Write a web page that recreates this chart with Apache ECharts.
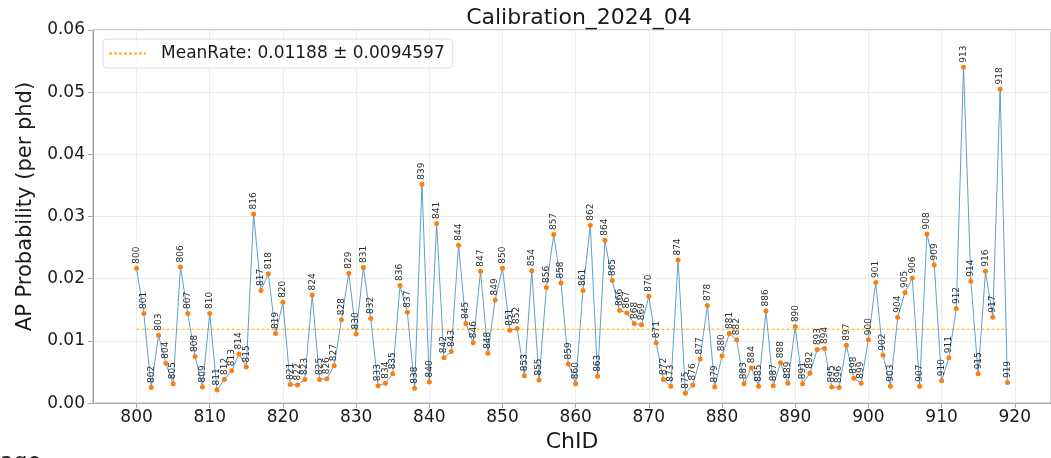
<!DOCTYPE html>
<html>
<head>
<meta charset="utf-8">
<title>Calibration_2024_04</title>
<script src="https://cdn.jsdelivr.net/npm/echarts@6/dist/echarts.min.js"></script>
<style>
  html, body { margin: 0; padding: 0; background: #fff; }
  #chart { width: 1051px; height: 458px; }
</style>
</head>
<body>
<div id="chart"></div>
<script>
// channel ids start at 800, one value per channel
const firstChId = 800;
const apRate = [
  0.0217, 0.0144, 0.0025, 0.0109, 0.0064, 0.0031, 0.0219, 0.0144, 0.0075, 0.0026,
  0.0144, 0.0021, 0.0038, 0.0052, 0.0079, 0.0058, 0.0304, 0.0181, 0.0208, 0.0112,
  0.0162, 0.0030, 0.0029, 0.0038, 0.0174, 0.0038, 0.0039, 0.0060, 0.0134, 0.0209,
  0.0111, 0.0218, 0.0136, 0.0028, 0.0032, 0.0047, 0.0189, 0.0146, 0.0024, 0.0352,
  0.0034, 0.0289, 0.0073, 0.0083, 0.0254, 0.0128, 0.0097, 0.0212, 0.0080, 0.0166,
  0.0217, 0.0117, 0.0120, 0.0044, 0.0213, 0.0037, 0.0186, 0.0271, 0.0193, 0.0063,
  0.0031, 0.0181, 0.0286, 0.0043, 0.0262, 0.0197, 0.0149, 0.0145, 0.0128, 0.0126,
  0.0172, 0.0097, 0.0038, 0.0027, 0.0230, 0.0016, 0.0029, 0.0071, 0.0157, 0.0026,
  0.0076, 0.0112, 0.0102, 0.0031, 0.0057, 0.0027, 0.0148, 0.0028, 0.0065, 0.0032,
  0.0123, 0.0031, 0.0048, 0.0086, 0.0088, 0.0026, 0.0025, 0.0093, 0.0040, 0.0032,
  0.0102, 0.0194, 0.0077, 0.0027, 0.0138, 0.0178, 0.0201, 0.0027, 0.0272, 0.0222,
  0.0036, 0.0073, 0.0152, 0.0540, 0.0196, 0.0047, 0.0212, 0.0138, 0.0505, 0.0033
];
const chIds = apRate.map((v, i) => firstChId + i);
const meanRate = 0.01188;
const meanLabel = "MeanRate: 0.01188 \u00b1 0.0094597";
const xTicks = [800, 810, 820, 830, 840, 850, 860, 870, 880, 890, 900, 910, 920];

const font = "DejaVu Sans";
const chart = echarts.init(document.getElementById("chart"));

const option = {
  animation: false,
  textStyle: { fontFamily: font },
  title: {
    text: "Calibration_2024_04",
    left: 574,
    top: 2,
    textAlign: "center",
    textStyle: { fontFamily: font, fontSize: 22, fontWeight: "normal", color: "#1a1a1a" },
  },
  legend: {
    data: [meanLabel],
    left: 103,
    top: 39,
    orient: "vertical",
    padding: [6, 8, 6, 5],
    itemWidth: 37,
    itemHeight: 10,
    itemStyle: { opacity: 0 },
    borderColor: "#dcdcdc",
    borderWidth: 1,
    borderRadius: 4,
    backgroundColor: "rgba(255,255,255,0.8)",
    textStyle: { fontFamily: font, fontSize: 17, color: "#1a1a1a", padding: [0, 0, 0, 10] },
  },
  grid: {
    left: 93,
    top: 30,
    width: 963,
    height: 376,
    show: true,
    borderColor: "#a6a6a6",
    borderWidth: 1,
  },
  xAxis: {
    type: "value",
    min: 794.05,
    max: 924.95,
    name: "ChID",
    nameLocation: "middle",
    nameGap: 24,
    nameTextStyle: { fontFamily: font, fontSize: 22, color: "#1a1a1a" },
    axisLine: { lineStyle: { color: "#a6a6a6" } },
    axisTick: { customValues: xTicks, length: 5, lineStyle: { color: "#a6a6a6" } },
    axisLabel: {
      customValues: xTicks,
      fontFamily: font,
      fontSize: 17,
      color: "#1a1a1a",
      margin: 6,
    },
    splitLine: { show: true, lineStyle: { color: "#ececec", width: 1 } },
  },
  yAxis: {
    type: "value",
    min: 0,
    max: 0.06,
    interval: 0.01,
    name: "AP Probability (per phd)",
    nameLocation: "middle",
    nameGap: 50,
    nameTextStyle: { fontFamily: font, fontSize: 21, color: "#1a1a1a", padding: [0, 0, 0, 20] },
    axisLine: { show: true, lineStyle: { color: "#a6a6a6" } },
    axisTick: { show: true, length: 5, lineStyle: { color: "#a6a6a6" } },
    axisLabel: {
      fontFamily: font,
      fontSize: 17,
      color: "#1a1a1a",
      margin: 8,
      formatter: (v) => v.toFixed(2),
    },
    splitLine: { show: true, lineStyle: { color: "#ececec", width: 1 } },
  },
  series: [
    {
      name: "AP",
      type: "line",
      data: chIds.map((id, i) => [id, apRate[i]]),
      symbol: "circle",
      symbolSize: 5,
      lineStyle: { color: "#3b84bd", width: 0.8 },
      itemStyle: { color: "#ff7f0e", borderWidth: 0 },
      label: {
        show: true,
        position: "top",
        distance: 2,
        rotate: 90,
        align: "left",
        verticalAlign: "middle",
        fontFamily: font,
        fontSize: 9,
        color: "#2b2b2b",
        formatter: (p) => String(p.value[0]),
      },
      labelLayout: { hideOverlap: false },
      z: 3,
    },
    {
      name: meanLabel,
      type: "line",
      data: [[chIds[0], meanRate], [chIds[chIds.length - 1], meanRate]],
      symbol: "none",
      lineStyle: { color: "#ffb000", width: 1, type: [3, 2] },
      itemStyle: { color: "#ffb000" },
      z: 2,
    },
  ],
  graphic: [
    {
      type: "text",
      left: 0,
      top: 451,
      style: { text: "age", fontFamily: font, fontSize: 22, fill: "#1a1a1a" },
    },
  ],
};

chart.setOption(option);
window.onresize = chart.resize;
</script>
</body>
</html>
